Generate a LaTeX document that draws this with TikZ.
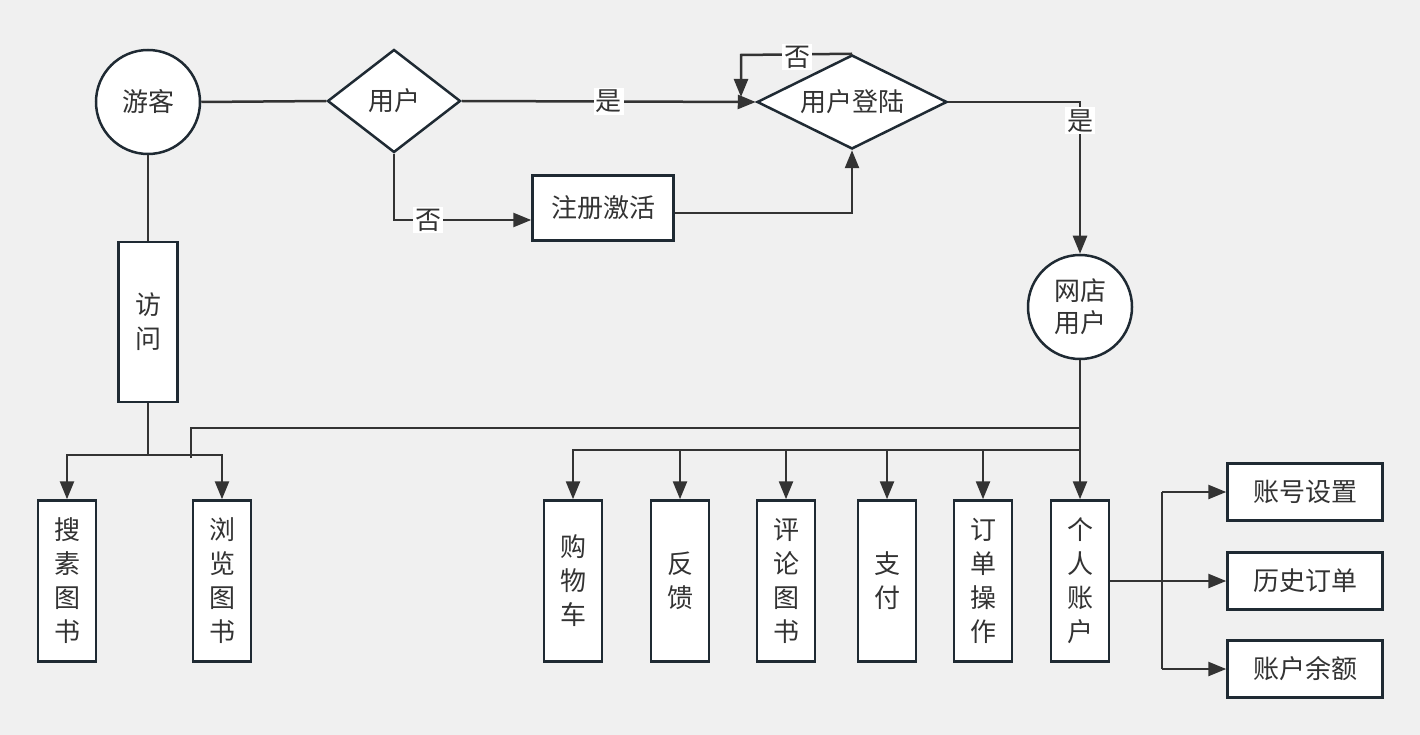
\documentclass[tikz,border=0pt]{standalone}
\usepackage{fontspec}
\setmainfont{Noto Sans CJK SC}
\usetikzlibrary{arrows.meta,shapes.geometric}
\definecolor{bg}{HTML}{F0F0F0}
\definecolor{ln}{HTML}{333333}
\definecolor{bd}{HTML}{1F2A33}
\definecolor{tx}{HTML}{333333}
\tikzset{
  every node/.style={text=tx,font=\fontsize{26}{34}\selectfont},
  boxs/.style={draw=bd,fill=white,line width=2.5pt,rectangle,inner sep=0pt},
  circs/.style={draw=bd,fill=white,line width=2.5pt,circle,inner sep=0pt,minimum size=104pt},
  dia/.style={draw=bd,fill=white,line width=2.5pt,diamond,inner sep=0pt},
  conn/.style={draw=ln,line width=2.5pt},
  arr/.style={conn,-{Triangle[length=18pt,width=14pt]}},
  lab/.style={fill=white,inner sep=2pt}
}
\begin{document}
\begin{tikzpicture}[x=1pt,y=-1pt]
\fill[bg] (0,0) rectangle (1420,735);
\useasboundingbox (0,0) rectangle (1420,735);
% nodes
\node[circs] (youke) at (148,102) {游客};
\node[dia,aspect=1.3,minimum width=133pt,minimum height=103pt] (yonghu) at (394,101) {用户};
\node[dia,aspect=2,minimum width=190pt,minimum height=94pt] (denglu) at (852,102) {用户登陆};
\node[boxs,minimum width=141pt,minimum height=65pt] (zhuce) at (603,208) {注册激活};
\node[circs,align=center,font=\fontsize{26}{32}\selectfont] (wangdian) at (1080,307) {网店\\用户};
\node[boxs,minimum width=59pt,minimum height=160pt,align=center] (fangwen) at (148,322) {访\\问};
\node[boxs,minimum width=58pt,minimum height=161pt,align=center] (sousuo) at (67,581) {搜\\素\\图\\书};
\node[boxs,minimum width=58pt,minimum height=161pt,align=center] (liulan) at (222,581) {浏\\览\\图\\书};
\node[boxs,minimum width=58pt,minimum height=161pt,align=center] (gouwu) at (573,581) {购\\物\\车};
\node[boxs,minimum width=58pt,minimum height=161pt,align=center] (fankui) at (680,581) {反\\馈};
\node[boxs,minimum width=58pt,minimum height=161pt,align=center] (pinglun) at (786,581) {评\\论\\图\\书};
\node[boxs,minimum width=58pt,minimum height=161pt,align=center] (zhifu) at (887,581) {支\\付};
\node[boxs,minimum width=58pt,minimum height=161pt,align=center] (dingdan) at (983,581) {订\\单\\操\\作};
\node[boxs,minimum width=58pt,minimum height=161pt,align=center] (geren) at (1080,581) {个\\人\\账\\户};
\node[boxs,minimum width=155pt,minimum height=57pt] (zhanghao) at (1305,492) {账号设置};
\node[boxs,minimum width=155pt,minimum height=57pt] (lishi) at (1305,581) {历史订单};
\node[boxs,minimum width=155pt,minimum height=57pt] (yue) at (1305,669) {账户余额};
% coordinates
\coordinate (loopA) at (741,55);
\coordinate (loopB) at (741,97);
\coordinate (reg) at (394,220);
\coordinate (vsplit) at (148,455);
\coordinate (busA) at (1080,428);
\coordinate (busB) at (191,428);
\coordinate (busC) at (191,458);
\coordinate (busD) at (1080,450);
\coordinate (rsplitT) at (1162,492);
\coordinate (rsplitB) at (1162,669);
% connectors
\draw[conn] (youke.east) -- (yonghu.west);
\draw[arr] (yonghu.east) -- node[lab,pos=0.5]{是} (denglu.west);
\draw[arr] (yonghu.south) -- (reg) -- node[lab,pos=0.25]{否} (zhuce.west |- reg);
\draw[arr] (zhuce.east |- 0,213) -| (denglu.south);
\draw[arr] (denglu.north) -- (loopA) -- (loopB);
\node[lab] at (797,57) {否};
\draw[arr] (denglu.east) -| node[lab,pos=0.562]{是} (wangdian.north);
\draw[conn] (youke.south) -- (fangwen.north);
\draw[conn] (fangwen.south) -- (vsplit);
\draw[arr] (vsplit) -| (sousuo.north);
\draw[arr] (vsplit) -| (liulan.north);
\draw[arr] (wangdian.south) -- (geren.north);
\draw[conn] (busA) -- (busB) -- (busC);
\draw[arr] (busD) -| (gouwu.north);
\draw[arr] (busD -| fankui.north) -- (fankui.north);
\draw[arr] (busD -| pinglun.north) -- (pinglun.north);
\draw[arr] (busD -| zhifu.north) -- (zhifu.north);
\draw[arr] (busD -| dingdan.north) -- (dingdan.north);
\draw[arr] (geren.east |- lishi) -- (lishi.west);
\draw[conn] (rsplitT) -- (rsplitB);
\draw[arr] (rsplitT) -- (zhanghao.west);
\draw[arr] (rsplitB) -- (yue.west);
\end{tikzpicture}
\end{document}
